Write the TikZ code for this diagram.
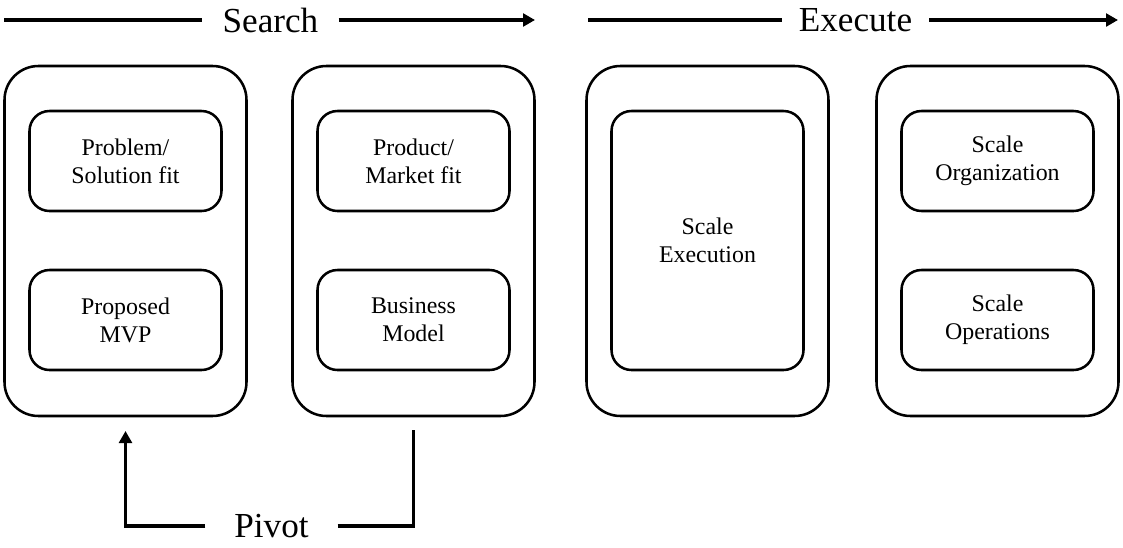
\documentclass[tikz,border=0pt]{standalone}
\usepackage{fontspec}
\setmainfont{Liberation Serif}
\usepackage{tikz}
\usetikzlibrary{positioning, arrows.meta}
\tikzset{>={Triangle[length=0.3cm,width=0.32cm]}}
\tikzset{stage/.style={draw, line width=1.8pt, outer sep=0pt, rounded corners=0.85cm, minimum width=6.05cm, minimum height=8.75cm},
  part/.style={draw, line width=1.8pt, outer sep=0pt, rounded corners=0.5cm, minimum width=4.8cm, minimum height=2.5cm, align=center, font=\fontsize{17}{20}\selectfont},
  phase/.style={font=\fontsize{25}{30}\selectfont, inner ysep=0pt},
  flow/.style={line width=2.4pt}}

\begin{document}
\begin{tikzpicture}
\useasboundingbox (0,0) rectangle (28.075,-13.675);
% stages
\node[stage] at (3.1375,-6.025)(st1) {};
\node[stage, right=1.15cm of st1](st2) {};
\node[stage, right=1.3cm of st2](st3) {};
\node[stage, right=1.2cm of st3](st4) {};
\node[part, below=1.125cm of st1.north](ps) {Problem/\\Solution fit};
\node[part, above=1.15cm of st1.south](mvp) {Proposed\\MVP};
\node[part, below=1.125cm of st2.north](pm) {Product/\\Market fit};
\node[part, above=1.15cm of st2.south](bm) {Business\\Model};
\node[part, minimum height=6.475cm, below=1.125cm of st3.north](exec) {Scale\\Execution};
\node[part, below=1.125cm of st4.north](org) {Scale\\Organization};
\node[part, above=1.15cm of st4.south](ops) {Scale\\Operations};
% headings
\node[phase, inner xsep=0.5cm] at (6.7625,-0.5)(search) {Search};
\coordinate (sl) at (0.1,-0.5);
\coordinate (sr) at (13.375,-0.5);
\draw[flow] (sl) -- (search);
\draw[flow,->] (search) -- (sr);
\node[phase, inner xsep=0.42cm] at (21.3875,-0.5)(execute) {Execute};
\coordinate (el) at (14.7,-0.5);
\coordinate (er) at (27.95,-0.5);
\draw[flow] (el) -- (execute);
\draw[flow,->] (execute) -- (er);
% pivot
\node[phase, inner xsep=0.72cm] at (6.7875,-13.15)(pivot) {Pivot};
\draw[flow,->,shorten >=0.375cm] (pivot) -| (st1);
\draw[flow,shorten >=0.35cm] (pivot) -| (st2);
\end{tikzpicture}
\end{document}
